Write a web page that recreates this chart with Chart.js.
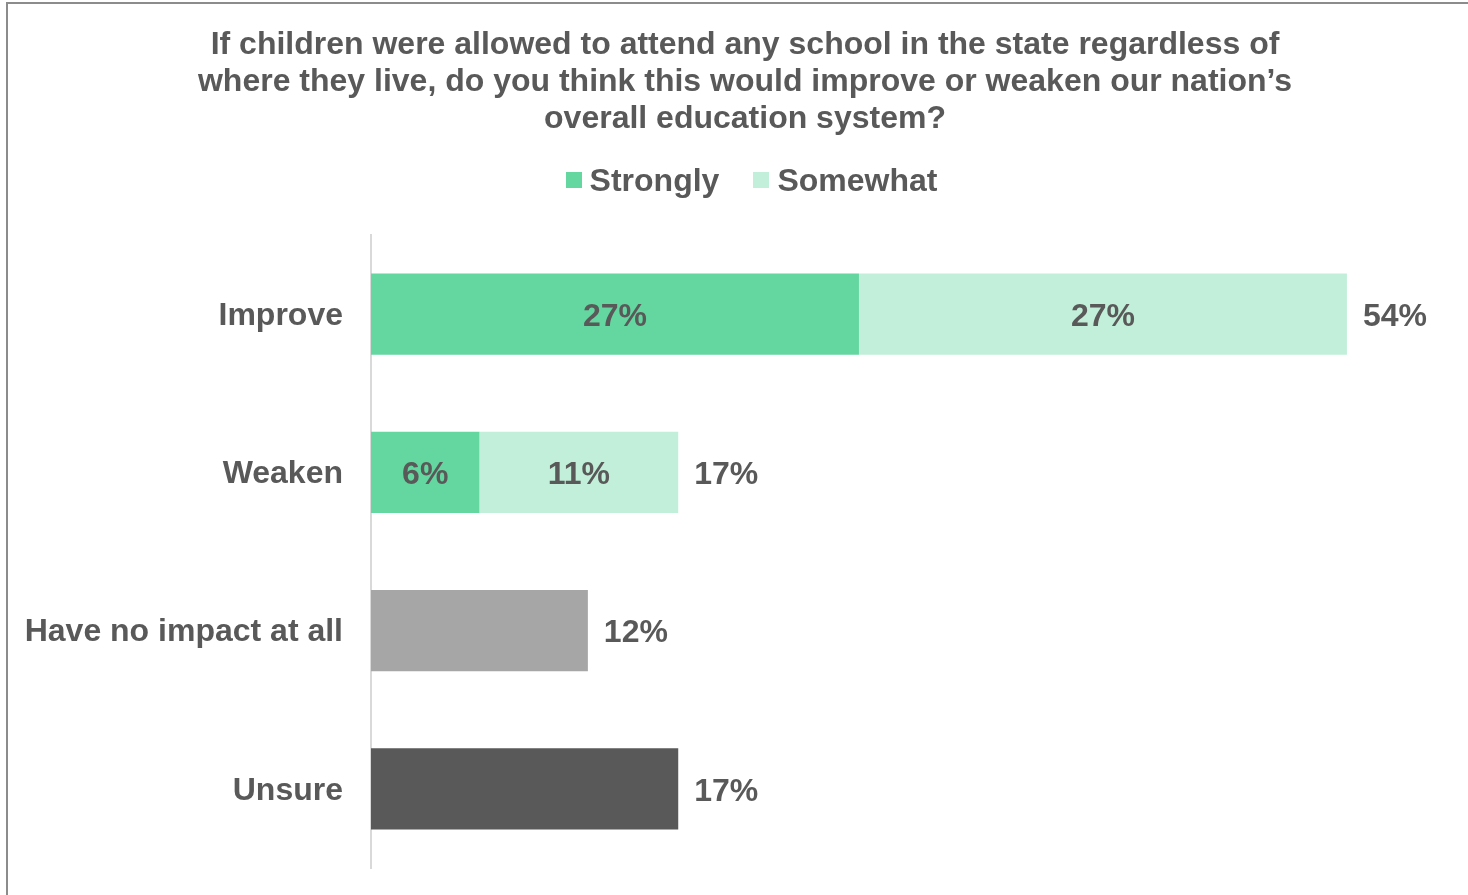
<!DOCTYPE html>
<html>
<head>
<meta charset="utf-8">
<script src="https://cdn.jsdelivr.net/npm/chart.js@4.4.1/dist/chart.umd.min.js"></script>
<style>
  html, body { margin: 0; padding: 0; background: #fff; }
  body { width: 1468px; height: 895px; position: relative; overflow: hidden; font-family: "Liberation Sans", Arial, sans-serif; }
  #frame { position: absolute; left: 6px; top: 2px; width: 1480px; height: 920px; border-left: 2px solid #8c8c8c; border-top: 2px solid #8c8c8c; }
  #wrap { position: absolute; left: 0; top: 0; width: 1468px; height: 895px; }
  #legend { position: absolute; left: 0; top: 162px; width: 1468px; display: flex; justify-content: center; padding-left: 35px; box-sizing: border-box; }
  .item { display: flex; align-items: center; margin: 0 17px; color: #595959; font: bold 32px "Liberation Sans", Arial, sans-serif; line-height: 36px; }
  .swatch { width: 16px; height: 16px; margin-right: 8px; }
</style>
</head>
<body>
<div id="frame"></div>
<div id="wrap"><canvas id="chart" width="1468" height="895"></canvas></div>
<div id="legend"></div>
<script>
// Survey answers
const categories = ["Improve", "Weaken", "Have no impact at all", "Unsure"];
const strongly = [27, 6, null, null];
const somewhat = [27, 11, null, null];
const noImpact = [null, null, 12, null];
const unsure = [null, null, null, 17];

const titleLines = [
  "If children were allowed to attend any school in the state regardless of",
  "where they live, do you think this would improve or weaken our nation\u2019s",
  "overall education system?"
];

const textColor = "#595959";
const font = "\"Liberation Sans\", Arial, sans-serif";

// totals shown after each bar
const totals = categories.map((_, i) =>
  [strongly, somewhat, noImpact, unsure].reduce((s, arr) => s + (arr[i] || 0), 0));

const barLabels = {
  id: "barLabels",
  afterDatasetsDraw(chart) {
    const ctx = chart.ctx;
    ctx.save();
    ctx.font = "bold 32px " + font;
    ctx.fillStyle = textColor;
    ctx.textBaseline = "middle";
    // values inside the split bars
    chart.data.datasets.forEach((ds, di) => {
      if (!ds.inside) return;
      const meta = chart.getDatasetMeta(di);
      meta.data.forEach((el, i) => {
        if (ds.data[i] == null) return;
        ctx.textAlign = "center";
        ctx.fillText(ds.data[i] + "%", (el.x + el.base) / 2, el.y + 3);
      });
    });
    // totals to the right
    const xs = chart.scales.x, ys = chart.scales.y;
    totals.forEach((t, i) => {
      ctx.textAlign = "left";
      ctx.fillText(t + "%", xs.getPixelForValue(t) + 16, ys.getPixelForValue(i) + 3);
    });
    ctx.restore();
  }
};

const chart = new Chart(document.getElementById("chart"), {
  type: "bar",
  data: {
    labels: categories,
    datasets: [
      { label: "Strongly", data: strongly, backgroundColor: "#64D6A0", inside: true, legend: true },
      { label: "Somewhat", data: somewhat, backgroundColor: "#C2EFD9", inside: true, legend: true },
      { label: "Have no impact", data: noImpact, backgroundColor: "#A6A6A6" },
      { label: "Unsure", data: unsure, backgroundColor: "#595959" }
    ]
  },
  options: {
    indexAxis: "y",
    responsive: false,
    animation: false,
    layout: { padding: { left: 22, right: 0, top: 0, bottom: 27 } },
    datasets: { bar: { barPercentage: 0.512, categoryPercentage: 1, borderWidth: 0 } },
    plugins: {
      legend: { display: false },
      tooltip: { enabled: false },
      title: {
        display: true,
        text: titleLines,
        color: textColor,
        font: { family: font, size: 32, weight: "bold", lineHeight: 37 / 32 },
        padding: { top: 27, bottom: 97 }
      }
    },
    scales: {
      x: { stacked: true, min: 0, max: 60.7, display: false },
      y: {
        stacked: true,
        grid: { display: false, drawTicks: false },
        border: { display: true, color: "#d9d9d9", width: 2 },
        ticks: { color: textColor, padding: 28, labelOffset: 2, font: { family: font, size: 32, weight: "bold" } },
        afterFit(scale) {
          // fixed label column, no extra vertical room for the tick padding
          scale.width = 349;
          scale.paddingTop = 0;
          scale.paddingBottom = 0;
        }
      }
    }
  },
  plugins: [barLabels]
});

// legend for the two split series
const legend = document.getElementById("legend");
chart.data.datasets.filter(d => d.legend).forEach(d => {
  const item = document.createElement("div");
  item.className = "item";
  const sw = document.createElement("span");
  sw.className = "swatch";
  sw.style.background = d.backgroundColor;
  item.appendChild(sw);
  item.appendChild(document.createTextNode(d.label));
  legend.appendChild(item);
});
</script>
</body>
</html>
